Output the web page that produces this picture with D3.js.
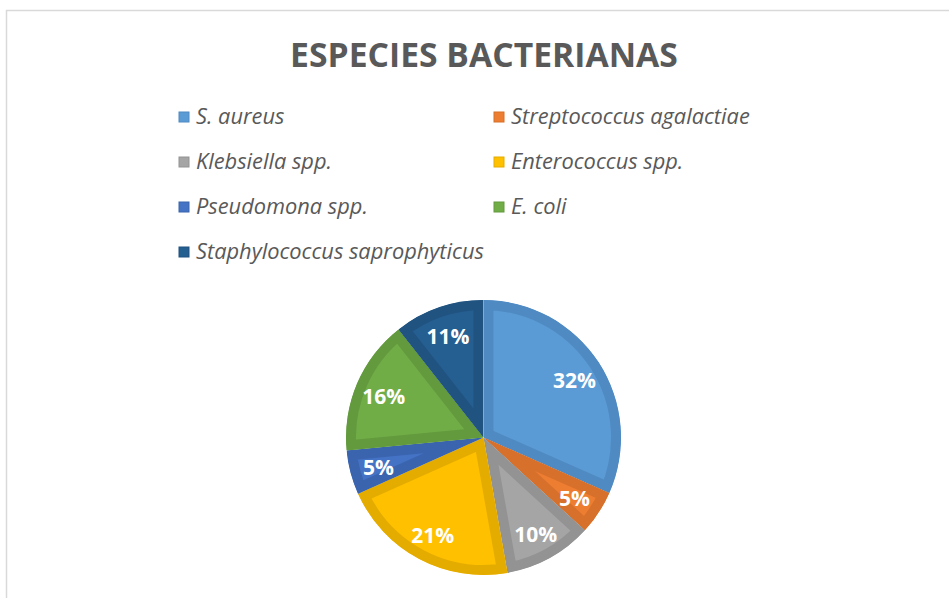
<!DOCTYPE html>
<html><head><meta charset="utf-8">
<script src="https://cdn.jsdelivr.net/npm/d3@7"></script>
<style>html,body{margin:0;padding:0;background:#fff;}svg{display:block;}</style>
</head><body>
<svg id="chart" width="949" height="598"></svg>
<script>
const title = "ESPECIES BACTERIANAS";
const categories = ["S. aureus","Streptococcus agalactiae","Klebsiella spp.","Enterococcus spp.","Pseudomona spp.","E. coli","Staphylococcus saprophyticus"];
const values = [31.6, 5.2, 10.4, 21.1, 5.2, 15.9, 10.6];
const fills = ["#5B9BD5","#ED7D31","#A5A5A5","#FFC000","#4472C4","#70AD47","#255E91"];
const bands = ["#4F8AC2","#D6702B","#939393","#E5AC00","#3A64AE","#639A3E","#205380"];

const svg = d3.select("#chart");
svg.append("rect").attr("x",6.5).attr("y",10.5).attr("width",1000).attr("height",700)
  .attr("fill","#fff").attr("stroke","#D9D9D9").attr("stroke-width",1.5);

function fitFont(sel, target, size){
  sel.style("font-size", size+"px");
  const w = sel.node().getComputedTextLength();
  const s = size*target/w;
  sel.style("font-size", s+"px");
  return s;
}

const t = svg.append("text").attr("x",484).attr("y",67).attr("text-anchor","middle")
  .attr("fill","#595959").style("font-family","'Open Sans', sans-serif").style("font-weight","bold")
  .text(title);
fitFont(t, 388, 28);

// legend
const probe = svg.append("text").style("font-family","'Open Sans', sans-serif").style("font-style","italic")
  .text(categories[6]);
const lsize = fitFont(probe, 288, 18);
probe.remove();
const colX = [179, 494];
const rowY = [117, 162, 207, 252];
const lg = svg.append("g");
categories.forEach((c,i)=>{
  const cx = colX[i%2], cy = rowY[Math.floor(i/2)];
  lg.append("rect").attr("x",cx).attr("y",cy-5).attr("width",10).attr("height",10)
    .attr("fill",fills[i]).attr("stroke",bands[i]).attr("stroke-width",1);
  lg.append("text").attr("x",cx+17).attr("y",cy+7).attr("fill","#595959")
    .style("font-family","'Open Sans', sans-serif").style("font-style","italic")
    .style("font-size",lsize+"px").text(c);
});

// pie
const cx = 483.5, cy = 437.5, R = 137.5, band = 10;
const pie = d3.pie().sort(null).value(d=>d);
const arcs = pie(values);
const arc = d3.arc().innerRadius(0).outerRadius(R);
const g = svg.append("g").attr("transform",`translate(${cx},${cy})`);
const defs = svg.append("defs");
arcs.forEach((a,i)=>{
  defs.append("clipPath").attr("id","clip"+i).append("path").attr("d",arc(a));
  g.append("path").attr("d",arc(a)).attr("fill",fills[i])
    .attr("stroke",bands[i]).attr("stroke-width",band*2).attr("stroke-linejoin","miter")
    .attr("clip-path",`url(#clip${i})`);
});
const total = d3.sum(values);
const labelArc = d3.arc().innerRadius(R*0.79).outerRadius(R*0.79);
arcs.forEach((a,i)=>{
  const [x,y] = labelArc.centroid(a);
  g.append("text").attr("x",x).attr("y",y+2).attr("dy","0.36em").attr("text-anchor","middle")
    .attr("fill","#fff").style("font-family","'Open Sans', sans-serif").style("font-weight","bold")
    .style("font-size","21px").text(Math.round(values[i]/total*100)+"%");
});
</script>
</body></html>
